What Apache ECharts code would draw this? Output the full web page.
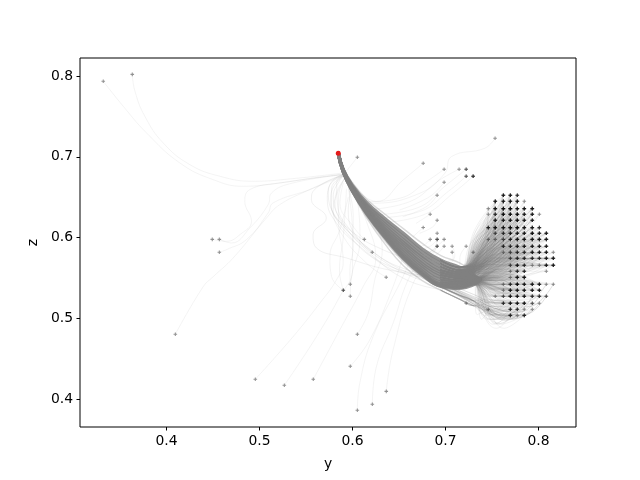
<!DOCTYPE html>
<html><head><meta charset="utf-8">
<style>html,body{margin:0;padding:0;background:#fff}#c{width:640px;height:480px}</style>
<script src="https://cdn.jsdelivr.net/npm/echarts@6/dist/echarts.min.js"></script>
</head><body><div id="c"></div>
<script>
const xTicks=[0.4,0.5,0.6,0.7,0.8];
const yTicks=[0.4,0.5,0.6,0.7,0.8];
const endPoint=[0.5847,0.7045];
const gridY=[0.746,0.7535,0.7622,0.7697,0.7772,0.7847,0.7933,0.8009,0.8084,0.8159];
const gridZ=[0.6525,0.645,0.636,0.629,0.6216,0.6125,0.6055,0.598,0.5895,0.582,0.5747,0.566,0.5586,0.551,0.5425,0.535,0.5276,0.519,0.5115,0.504];
const gridCounts=["0044300000","0444410000","1455444000","1355544100","0444544000","3445544300","0234445440","1123444440","0033444440","0012334441","0002333344","0002431144","0001330010","0001440000","0013544411","0014444400","0124443320","0034442100","1003311000","0003130000"];
const kneeY=[0.734,0.738,0.742,0.746,0.75,0.754,0.758,0.762,0.766,0.77];
const kneeZ=[0.605,0.6,0.596,0.592,0.588,0.584,0.58,0.576,0.572,0.569,0.566,0.562,0.558,0.553,0.548,0.542,0.533,0.515,0.505,0.499];
const kneeShiftY=[0,0.005,-0.004,0.009,-0.007,0.003,-0.002,0.007];
const kneeShiftZ=[0,-0.006,0.005,-0.011,0.009,0.003,-0.004,0.007];
const bandStart=[0,0,0,0,0,0,0,0,0,3,3,3,3,3,6,6,6,8,8,8];
const stations=[0.5847,0.59,0.6,0.615,0.635,0.655,0.675,0.695,0.715,0.73,0.737];
const spines=[
[0.7045,0.684,0.6645,0.6435,0.6235,0.605,0.586,0.572,0.5635,0.554,0.548],
[0.7045,0.684,0.663,0.641,0.62,0.601,0.582,0.568,0.56,0.553,0.548],
[0.7045,0.6835,0.662,0.639,0.617,0.597,0.578,0.564,0.5575,0.552,0.548],
[0.7045,0.683,0.661,0.637,0.614,0.594,0.575,0.56,0.555,0.551,0.548],
[0.7045,0.683,0.6605,0.636,0.611,0.591,0.571,0.557,0.5525,0.55,0.548],
[0.7045,0.6825,0.66,0.635,0.609,0.588,0.568,0.554,0.55,0.549,0.548],
[0.7045,0.6825,0.6595,0.634,0.607,0.585,0.565,0.551,0.5475,0.548,0.548],
[0.7045,0.682,0.659,0.633,0.605,0.582,0.562,0.548,0.5455,0.547,0.548],
[0.7045,0.682,0.6585,0.632,0.603,0.579,0.559,0.545,0.5435,0.546,0.548],
[0.7045,0.682,0.6585,0.6315,0.602,0.577,0.557,0.543,0.5415,0.545,0.548],
[0.7045,0.682,0.658,0.631,0.601,0.575,0.555,0.541,0.5395,0.5435,0.548],
[0.7045,0.6815,0.6575,0.63,0.6,0.574,0.554,0.54,0.5375,0.542,0.548]
];
const faintSpines=[
[0.7045,0.686,0.668,0.648,0.629,0.611,0.593,0.578,0.569,0.558],
[0.7045,0.681,0.656,0.627,0.596,0.57,0.551,0.539,0.529,0.522],
[0.7045,0.681,0.655,0.625,0.592,0.565,0.547,0.535,0.524,0.516]
];
const tail=[[0.5875,0.69],[0.5847,0.7045]];
const arcPaths=[
[[0.7772,0.504],[0.765,0.498],[0.745,0.508],[0.73,0.518],[0.715,0.528],[0.695,0.54]],
[[0.7847,0.5115],[0.772,0.499],[0.75,0.505],[0.73,0.518],[0.7,0.536]],
[[0.7933,0.5115],[0.775,0.5],[0.75,0.507],[0.725,0.522],[0.695,0.54]],
[[0.8009,0.519],[0.78,0.502],[0.755,0.506],[0.73,0.52],[0.7,0.538]],
[[0.8084,0.5276],[0.785,0.505],[0.755,0.508],[0.73,0.522],[0.7,0.539]],
[[0.8009,0.5276],[0.78,0.508],[0.755,0.512],[0.73,0.525],[0.7,0.541]],
[[0.7933,0.5276],[0.775,0.508],[0.75,0.514],[0.73,0.526],[0.7,0.542]],
[[0.7847,0.519],[0.77,0.504],[0.75,0.511],[0.73,0.524],[0.7,0.54]],
[[0.7772,0.5115],[0.763,0.503],[0.745,0.512],[0.725,0.526],[0.7,0.541]],
[[0.7697,0.504],[0.758,0.501],[0.742,0.512],[0.725,0.525],[0.7,0.54]],
[[0.8159,0.5425],[0.79,0.515],[0.76,0.514],[0.735,0.525],[0.7,0.542]],
[[0.8084,0.5425],[0.785,0.52],[0.755,0.52],[0.73,0.53],[0.7,0.545]]
];
const soloPaths=[
[[0.332,0.7934],[0.3535,0.7625],[0.3786,0.7295],[0.4144,0.6924],[0.4502,0.6718],[0.4824,0.6636],[0.5218,0.6677],[0.5576,0.6739],[0.5898,0.6788]],
[[0.3632,0.802],[0.3661,0.781],[0.3768,0.75],[0.3965,0.7171],[0.4251,0.6904],[0.4574,0.676],[0.4932,0.6698],[0.5361,0.6731],[0.5898,0.68]],
[[0.4492,0.598],[0.4645,0.5956],[0.4789,0.6038],[0.4914,0.6203],[0.4842,0.645],[0.4896,0.6595],[0.5218,0.6677],[0.5898,0.678]],
[[0.4568,0.598],[0.4699,0.5935],[0.4896,0.612],[0.5093,0.6409],[0.5129,0.6553],[0.5361,0.6677],[0.5898,0.678]],
[[0.4568,0.582],[0.4645,0.5853],[0.486,0.5977],[0.5093,0.6306],[0.5146,0.643],[0.554,0.6595],[0.5898,0.677]],
[[0.4095,0.4807],[0.4395,0.5396],[0.4503,0.5519],[0.4717,0.575],[0.5075,0.6244],[0.5218,0.6409],[0.554,0.6595],[0.5898,0.678]],
[[0.4955,0.425],[0.5362,0.4778],[0.5648,0.519],[0.5827,0.5478],[0.59,0.57],[0.585,0.62],[0.585,0.65],[0.592,0.675]],
[[0.5267,0.4176],[0.5613,0.4778],[0.5863,0.5272],[0.6,0.56],[0.6,0.6],[0.597,0.65],[0.5935,0.675]],
[[0.5578,0.425],[0.5863,0.486],[0.6114,0.5396],[0.625,0.575],[0.615,0.62],[0.6,0.66]],
[[0.6052,0.4807],[0.6168,0.5066],[0.6239,0.5478],[0.632,0.585],[0.618,0.63],[0.6,0.665]],
[[0.5976,0.4411],[0.6185,0.4736],[0.6436,0.5396],[0.655,0.58]],
[[0.6052,0.3868],[0.6078,0.42],[0.6221,0.4778],[0.6526,0.5478],[0.665,0.58]],
[[0.6213,0.3942],[0.6257,0.4407],[0.6436,0.4942],[0.6597,0.5478],[0.675,0.575]],
[[0.6363,0.41],[0.6436,0.4613],[0.6669,0.5478],[0.685,0.57]],
[[0.7533,0.723],[0.7422,0.7106],[0.7064,0.7003],[0.6993,0.6797],[0.6724,0.655],[0.6223,0.6427],[0.6044,0.6612]],
[[0.676,0.692],[0.6545,0.6715],[0.6259,0.6447],[0.6044,0.6591]],
[[0.6985,0.6847],[0.6796,0.6694],[0.6509,0.6488],[0.6151,0.6447],[0.6026,0.6633]],
[[0.7146,0.6847],[0.6939,0.6715],[0.6617,0.6447],[0.6133,0.6344]],
[[0.7222,0.6847],[0.701,0.6653],[0.6688,0.6365],[0.6187,0.6282]],
[[0.7222,0.676],[0.7028,0.6571],[0.6724,0.6324],[0.6205,0.6241]],
[[0.7297,0.676],[0.7082,0.655],[0.676,0.6282],[0.6241,0.6179]],
[[0.6985,0.6686],[0.6831,0.6509],[0.6509,0.6344]],
[[0.691,0.6525],[0.6796,0.6385],[0.6545,0.6262]],
[[0.6835,0.629],[0.6688,0.618]],
[[0.691,0.6216],[0.6867,0.6138],[0.6724,0.6056]],
[[0.676,0.6126],[0.6652,0.6015]],
[[0.6835,0.598],[0.6724,0.5891],[0.6545,0.5932]],
[[0.691,0.598],[0.6831,0.5891],[0.6688,0.585]],
[[0.691,0.598],[0.6867,0.585],[0.672,0.58]],
[[0.6985,0.598],[0.6867,0.585],[0.676,0.5788]],
[[0.691,0.5895],[0.6867,0.5829],[0.6796,0.5767]],
[[0.691,0.5895],[0.684,0.577],[0.675,0.572]],
[[0.6985,0.5895],[0.6921,0.5809],[0.6849,0.5747]],
[[0.7071,0.5895],[0.71,0.5788],[0.7064,0.5685]],
[[0.7222,0.5895],[0.7154,0.5747],[0.7154,0.5644]],
[[0.7071,0.582],[0.7082,0.5747],[0.7028,0.5706]],
[[0.7297,0.582],[0.7225,0.5685],[0.7207,0.5603]],
[[0.7222,0.519],[0.7154,0.5314],[0.701,0.5396]],
[[0.6052,0.6995],[0.5905,0.678]],
[[0.6127,0.598],[0.6008,0.6138],[0.5865,0.6427],[0.59,0.6674]],
[[0.6212,0.5821],[0.6044,0.5973],[0.5865,0.6221],[0.5811,0.6468],[0.5919,0.6736]],
[[0.6362,0.5512],[0.6151,0.5685],[0.5901,0.6015],[0.5793,0.6344],[0.5919,0.6736]],
[[0.5976,0.5425],[0.5972,0.5603],[0.6008,0.5891],[0.6008,0.6262],[0.5954,0.6633]],
[[0.5901,0.535],[0.5775,0.552],[0.5757,0.5767],[0.5865,0.61],[0.5954,0.65]],
[[0.5901,0.535],[0.586,0.56],[0.59,0.6],[0.5935,0.66]],
[[0.5976,0.5277],[0.599,0.552],[0.608,0.5973],[0.6062,0.6385],[0.599,0.6653]]
];
const loopPaths=[
[[0.5919,0.6777],[0.5793,0.6715],[0.574,0.655],[0.5793,0.6303],[0.5972,0.6015],[0.6223,0.5747],[0.6545,0.5561],[0.6831,0.552],[0.7225,0.552]],
[[0.5919,0.6777],[0.5757,0.6653],[0.5729,0.6468],[0.5829,0.6179],[0.608,0.589],[0.6366,0.5664],[0.6724,0.5541]],
[[0.5919,0.6777],[0.5865,0.6715],[0.5793,0.6509],[0.5901,0.6179],[0.6187,0.5809],[0.6581,0.5479],[0.6975,0.5355]],
[[0.5919,0.6777],[0.5972,0.655],[0.5954,0.6344],[0.6044,0.6015],[0.6366,0.5685],[0.6724,0.5479]],
[[0.5919,0.6777],[0.5775,0.6612],[0.5775,0.6385],[0.5972,0.6097],[0.633,0.585],[0.676,0.5685]],
[[0.5919,0.6777],[0.58,0.664],[0.5765,0.645],[0.586,0.62],[0.612,0.592],[0.645,0.565],[0.68,0.548]],
[[0.5919,0.6777],[0.583,0.668],[0.584,0.64],[0.596,0.612],[0.625,0.58],[0.66,0.56],[0.7,0.55]],
[[0.5898,0.678],[0.5576,0.6574],[0.5558,0.6471],[0.5719,0.6244],[0.5576,0.6038],[0.5612,0.5874],[0.5934,0.575],[0.64,0.56],[0.7,0.55]]
];
const extraDots=[[0.7533,0.723],[0.676,0.692],[0.6985,0.6847],[0.7146,0.6847],[0.7222,0.6847],[0.7222,0.6847],[0.7222,0.676],[0.7222,0.676],[0.7297,0.676],[0.7297,0.676],[0.7297,0.676],[0.6985,0.6686],[0.691,0.6525],[0.6835,0.629],[0.691,0.6216],[0.676,0.6126],[0.691,0.6055],[0.6835,0.598],[0.691,0.598],[0.691,0.598],[0.6985,0.598],[0.691,0.5895],[0.691,0.5895],[0.6985,0.5895],[0.7071,0.5895],[0.7222,0.5895],[0.7071,0.582],[0.7297,0.582],[0.7222,0.519],[0.6052,0.6995],[0.6127,0.598],[0.6212,0.5821],[0.6362,0.5512],[0.5976,0.5425],[0.5901,0.535],[0.5901,0.535],[0.5976,0.5277],[0.332,0.7934],[0.3632,0.802],[0.4492,0.598],[0.4568,0.598],[0.4568,0.582],[0.4095,0.4807],[0.4955,0.425],[0.5267,0.4176],[0.5578,0.425],[0.6052,0.4807],[0.5976,0.4411],[0.6052,0.3868],[0.6213,0.3942],[0.6363,0.41]];

const PLUS='path://M3.5 0H6.5V3.5H10V6.5H6.5V10H3.5V6.5H0V3.5H3.5Z';
const series=[];
function addLine(data,width,alpha,z){
  series.push({type:'line',data,symbol:'none',smooth:0.45,silent:true,animation:false,clip:true,z:z||2,
    lineStyle:{color:'#808080',width,opacity:alpha,cap:'round'}});
}
const spineLine=s=>s.map((v,i)=>[stations[i],v]);
const allSpines=spines.concat(faintSpines.slice(1));
const gridDots=[];
gridCounts.forEach((row,r)=>{
  [...row].forEach((ch,c)=>{
    const n=+ch;
    for(let k=0;k<n;k++) gridDots.push([gridY[c],gridZ[r]]);
    for(let k=0;k<n*2;k++){
      const idx=Math.min(allSpines.length-1,bandStart[r]+(c+2*k+r)%6);
      const s=allSpines[idx];
      const m=k%kneeShiftY.length;
      const knee=[kneeY[c]+kneeShiftY[m],kneeZ[r]+kneeShiftZ[m]];
      const path=r<10
        ?[[gridY[c],gridZ[r]],knee,[stations[8],s[8]],[stations[7],s[7]]]
        :[[gridY[c],gridZ[r]],knee,[stations[9],s[9]],[stations[8],s[8]],[stations[7],s[7]]];
      addLine(path,0.7,0.15);
    }
  });
});
soloPaths.forEach(p=>addLine(p,0.7,0.13));
loopPaths.forEach(p=>addLine(p,0.7,0.16));
arcPaths.forEach(p=>addLine(p,0.8,0.3));
addLine(tail,0.7,0.2);
faintSpines.forEach(s=>addLine(spineLine(s),1.4,0.3,3));
spines.forEach(s=>addLine(spineLine(s),3.4,0.85,3));
series.push({type:'scatter',data:[endPoint],symbol:'circle',symbolSize:5,silent:true,animation:false,z:4,itemStyle:{color:'#f01010',opacity:0.9}});
series.push({type:'scatter',data:gridDots.concat(extraDots),symbol:PLUS,symbolSize:3.6,silent:true,animation:false,z:5,itemStyle:{color:'#000',opacity:0.42}});

const tickStyle={show:true,length:3.5,lineStyle:{color:'#000',width:1}};
const lblStyle={color:'#000',fontFamily:'DejaVu Sans',fontSize:13.9,margin:7,formatter:v=>(+v).toFixed(1)};
const chart=echarts.init(document.getElementById('c'),null,{renderer:'canvas'});
chart.setOption({
  animation:false,backgroundColor:'#fff',
  grid:{left:80,right:64,top:58,bottom:53,show:true,borderColor:'#000',borderWidth:1,backgroundColor:'transparent'},
  xAxis:{type:'value',min:0.307,max:0.8403,name:'y',nameLocation:'middle',nameGap:30,
    nameTextStyle:{color:'#000',fontFamily:'DejaVu Sans',fontSize:13.9},
    axisLine:{show:false},splitLine:{show:false},
    axisTick:{...tickStyle,customValues:xTicks},axisLabel:{...lblStyle,customValues:xTicks}},
  yAxis:{type:'value',min:0.366,max:0.8222,name:'z',nameLocation:'middle',nameGap:34,
    nameTextStyle:{color:'#000',fontFamily:'DejaVu Sans',fontSize:13.9},
    axisLine:{show:false},splitLine:{show:false},
    axisTick:{...tickStyle,customValues:yTicks},axisLabel:{...lblStyle,customValues:yTicks}},
  series
});
</script></body></html>
